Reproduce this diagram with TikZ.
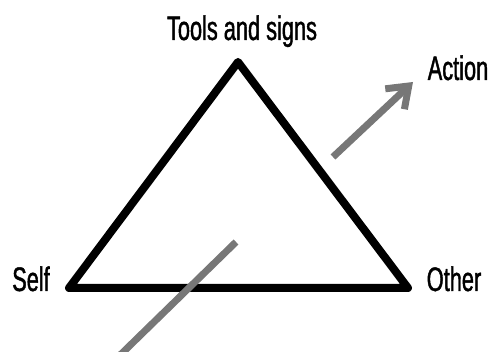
\documentclass[tikz,border=0pt]{standalone}
\usepackage{fontspec}
\setmainfont{Liberation Sans}[FakeStretch=0.64, FakeBold=1.2]
\usetikzlibrary{arrows.meta}
\definecolor{arrowgray}{RGB}{119,119,119}

\begin{document}
\begin{tikzpicture}[x=1pt, y=1pt,
    lbl/.style={font=\fontsize{34}{40}\selectfont, anchor=base, inner sep=0pt},
    edge/.style={line width=8pt, line join=round, black},
    ray/.style={line width=7pt, arrowgray}
  ]
  \useasboundingbox (0,0) rectangle (491,352);
  \coordinate (tools) at (238,290);
  \coordinate (self) at (69,64);
  \coordinate (other) at (408,64);
  \draw[edge] (tools) -- (self) -- (other) -- cycle;

  \node[lbl] (toolslbl) at (242,312) {Tools and signs};
  \node[lbl] (selflbl) at (31,61) {Self};
  \node[lbl] (otherlbl) at (454,61) {Other};
  \node[lbl] (actionlbl) at (458,272) {Action};

  \coordinate (acttail) at (333,195);
  \coordinate (acttip) at (413,270);
  \draw[ray, -{Straight Barb[length=19pt, width=28pt]}] (acttail) -- (acttip);

  \coordinate (intop) at (236,110);
  \coordinate (inbottom) at (113,-10);
  \draw[ray] (intop) -- (inbottom);
\end{tikzpicture}
\end{document}
